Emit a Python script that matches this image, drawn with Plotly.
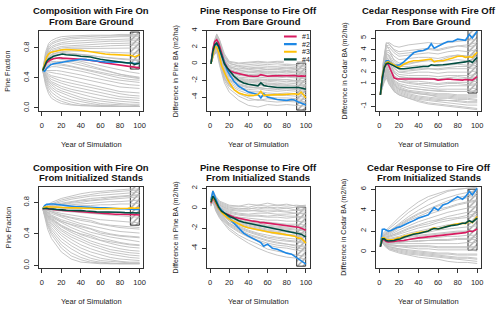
import plotly.graph_objects as go

# ---------------- data ----------------
GRID_BARE = [1, 4, 7, 10, 15, 20, 30, 40, 50, 60, 70, 80, 90, 100]
GRID_INIT = [1, 3, 6, 10, 20, 30, 40, 50, 60, 70, 80, 90, 100]
HI_YEARS = [1, 3, 5, 7, 9, 12, 15, 18, 21, 25, 30, 35, 40, 45, 50, 53, 56, 60, 65, 70, 75, 80, 85, 88, 92, 95, 100]

SERIES_NAMES = ["#1", "#2", "#3", "#4"]

TITLES = [
    ("Composition with Fire On", "From Bare Ground"),
    ("Pine Response to Fire Off", "From Bare Ground"),
    ("Cedar Response with Fire Off", "From Bare Ground"),
    ("Composition with Fire On", "From Initialized Stands"),
    ("Pine Response to Fire Off", "From Initialized Stands"),
    ("Cedar Response to Fire Off", "From Initialized Stands"),
]
Y_TITLES = ["Pine Fraction", "Difference in Pine BA (m2/ha)", "Difference in Cedar BA (m2/ha)",
            "Pine Fraction", "Difference in Pine BA (m2/ha)", "Difference in Cedar BA (m2/ha)"]
X_TITLE = "Year of Simulation"
X_TICKS = [0, 20, 40, 60, 80, 100]
Y_TICKS = [[0, 0.4, 0.8], [-4, -2, 0, 2, 4], [-1, 0, 1, 2, 3, 4, 5],
           [0, 0.4, 0.8], [-4, -2, 0, 2], [0, 2, 4, 6]]
Y_TICKTEXT = [["0.0", "0.4", "0.8"], ["-4", "-2", "0", "2", "4"], ["-1", "", "1", "2", "3", "4", "5"],
              ["0.0", "0.4", "0.8"], ["-4", "-2", "0", "2"], ["0", "2", "4", "6"]]

# hatched window (years 91-100) per panel: [y bottom, y top]
RECT_YEARS = [91, 100]
RECT_Y = [[0.51, 1.0], [-5.6, 0.0], [0.15, 5.65], [0.51, 1.0], [-5.9, 0.0], [0.15, 5.95]]

# highlighted runs: order #1 (pink), #2 (blue), #3 (yellow), #4 (green)
HI_P1 = [
    [0.5, 0.55, 0.6, 0.62, 0.64, 0.655, 0.665, 0.67, 0.665, 0.66, 0.66, 0.655, 0.65, 0.645, 0.64, 0.635, 0.625, 0.61, 0.60, 0.59, 0.58, 0.57, 0.56, 0.555, 0.55, 0.545, 0.535],
    [0.5, 0.49, 0.53, 0.56, 0.575, 0.59, 0.60, 0.605, 0.61, 0.62, 0.63, 0.64, 0.65, 0.645, 0.635, 0.63, 0.62, 0.62, 0.615, 0.61, 0.61, 0.61, 0.605, 0.60, 0.60, 0.595, 0.59],
    [0.5, 0.6, 0.68, 0.72, 0.74, 0.75, 0.76, 0.77, 0.775, 0.78, 0.78, 0.77, 0.77, 0.76, 0.75, 0.74, 0.73, 0.72, 0.72, 0.715, 0.71, 0.71, 0.705, 0.70, 0.70, 0.68, 0.71],
    [0.5, 0.56, 0.62, 0.65, 0.67, 0.69, 0.70, 0.715, 0.72, 0.71, 0.71, 0.70, 0.69, 0.69, 0.68, 0.67, 0.665, 0.65, 0.64, 0.63, 0.62, 0.61, 0.61, 0.60, 0.60, 0.58, 0.60],
]
HI_P2 = [
    [0, 1.8, 2.7, 2.9, 2.5, 1.3, 0.2, -0.5, -0.85, -1.05, -1.2, -1.35, -1.45, -1.5, -1.5, -1.3, -1.4, -1.5, -1.45, -1.45, -1.4, -1.4, -1.45, -1.4, -1.5, -1.45, -1.5],
    [0, 1.4, 2.2, 2.4, 2.0, 1.0, 0.0, -0.8, -1.4, -2.1, -2.7, -3.1, -3.4, -3.55, -3.7, -4.1, -3.6, -4.0, -4.15, -4.3, -4.35, -4.4, -4.3, -4.35, -4.6, -4.7, -4.95],
    [0, 1.3, 2.1, 2.0, 1.4, -0.2, -1.1, -1.8, -2.4, -3.1, -3.5, -3.7, -3.8, -3.8, -3.7, -3.3, -3.8, -3.75, -3.7, -3.7, -3.7, -3.65, -3.6, -3.6, -3.7, -3.4, -4.1],
    [0, 1.5, 2.3, 2.5, 2.1, 1.0, 0.0, -0.5, -0.9, -1.5, -2.0, -2.3, -2.45, -2.55, -2.65, -2.3, -2.6, -2.7, -2.8, -2.85, -2.85, -2.85, -2.85, -2.8, -2.85, -2.9, -3.05],
]
HI_P3 = [
    [0, 1.5, 2.4, 2.7, 2.7, 2.1, 1.5, 1.4, 1.4, 1.4, 1.4, 1.4, 1.42, 1.45, 1.4, 1.42, 1.4, 1.3, 1.35, 1.4, 1.35, 1.3, 1.3, 1.35, 1.35, 1.3, 1.6],
    [0, 1.6, 2.6, 3.0, 3.0, 2.8, 2.6, 2.6, 2.65, 2.9, 3.3, 3.7, 3.85, 3.9, 4.1, 4.5, 4.1, 4.3, 4.5, 4.7, 4.7, 4.9, 4.85, 4.8, 5.3, 5.0, 5.6],
    [0, 1.6, 2.5, 2.85, 2.9, 2.75, 2.6, 2.5, 2.45, 2.7, 2.9, 3.0, 3.0, 3.05, 3.1, 3.15, 2.9, 3.0, 3.0, 3.1, 3.25, 3.4, 3.4, 3.3, 3.35, 3.3, 3.75],
    [0, 1.5, 2.4, 2.75, 2.8, 2.7, 2.55, 2.4, 2.3, 2.3, 2.35, 2.45, 2.45, 2.5, 2.5, 2.65, 2.6, 2.65, 2.65, 2.7, 2.75, 2.85, 2.9, 2.9, 3.0, 2.85, 3.3],
]
HI_P4 = [
    [0.72, 0.725, 0.72, 0.72, 0.715, 0.71, 0.705, 0.70, 0.70, 0.695, 0.69, 0.685, 0.68, 0.68, 0.675, 0.67, 0.665, 0.665, 0.66, 0.655, 0.65, 0.65, 0.65, 0.645, 0.645, 0.645, 0.64],
    [0.72, 0.76, 0.775, 0.78, 0.78, 0.78, 0.775, 0.765, 0.76, 0.755, 0.75, 0.745, 0.745, 0.74, 0.74, 0.735, 0.73, 0.73, 0.73, 0.725, 0.72, 0.72, 0.72, 0.72, 0.715, 0.71, 0.71],
    [0.72, 0.74, 0.745, 0.745, 0.745, 0.74, 0.74, 0.738, 0.735, 0.73, 0.73, 0.73, 0.725, 0.725, 0.725, 0.72, 0.72, 0.72, 0.72, 0.72, 0.72, 0.72, 0.72, 0.725, 0.73, 0.725, 0.73],
    [0.72, 0.725, 0.725, 0.72, 0.72, 0.715, 0.71, 0.71, 0.705, 0.70, 0.70, 0.70, 0.695, 0.69, 0.69, 0.685, 0.68, 0.68, 0.68, 0.675, 0.675, 0.675, 0.67, 0.67, 0.67, 0.665, 0.665],
]
HI_P5 = [
    [0.5, 1.0, 0.7, 0.3, 0.0, -0.3, -0.5, -0.6, -0.75, -0.9, -1.0, -1.1, -1.25, -1.3, -1.35, -1.45, -1.45, -1.5, -1.55, -1.6, -1.7, -1.75, -1.8, -1.85, -1.9, -2.0, -2.2],
    [0.8, 1.7, 1.2, 0.6, 0.2, -0.2, -0.5, -0.9, -1.2, -1.6, -2.1, -2.5, -2.8, -3.05, -3.3, -3.45, -3.8, -3.6, -4.0, -4.1, -4.3, -4.5, -4.6, -4.8, -5.0, -5.2, -5.6],
    [0.6, 1.1, 0.8, 0.4, 0.0, -0.4, -0.7, -0.95, -1.15, -1.35, -1.6, -1.8, -1.95, -2.05, -2.15, -2.25, -2.3, -2.35, -2.45, -2.5, -2.6, -2.7, -2.75, -2.8, -3.0, -3.0, -3.5],
    [0.6, 1.2, 0.9, 0.5, 0.1, -0.3, -0.5, -0.7, -0.85, -1.0, -1.25, -1.4, -1.5, -1.6, -1.7, -1.75, -1.8, -1.9, -2.0, -2.1, -2.2, -2.3, -2.4, -2.45, -2.55, -2.6, -2.9],
]
HI_P6 = [
    [0.5, 1.2, 1.15, 1.0, 0.95, 0.95, 1.0, 1.05, 1.05, 1.1, 1.2, 1.3, 1.35, 1.4, 1.45, 1.5, 1.55, 1.55, 1.6, 1.65, 1.75, 1.8, 1.85, 1.85, 2.0, 1.95, 2.2],
    [0.6, 2.15, 2.2, 2.1, 2.0, 2.05, 2.2, 2.35, 2.4, 2.6, 2.8, 3.0, 3.25, 3.4, 3.55, 3.9, 4.25, 4.0, 4.5, 4.65, 5.0, 5.3, 5.05, 5.3, 5.8, 5.45, 6.1],
    [0.6, 1.35, 1.35, 1.2, 1.15, 1.15, 1.2, 1.3, 1.35, 1.5, 1.65, 1.75, 1.85, 1.9, 2.0, 2.2, 2.3, 2.2, 2.35, 2.5, 2.6, 2.7, 2.75, 2.7, 2.95, 2.8, 3.4],
    [0.5, 1.25, 1.25, 1.1, 1.05, 1.05, 1.1, 1.2, 1.25, 1.4, 1.58, 1.7, 1.77, 1.85, 2.0, 2.15, 2.25, 2.2, 2.35, 2.45, 2.55, 2.6, 2.75, 2.75, 3.0, 2.85, 3.25],
]

# all other runs (grey), values on GRID_BARE / GRID_INIT
GRAY_P1 = [
    [0.5, 0.75, 0.86, 0.9, 0.93, 0.95, 0.96, 0.97, 0.97, 0.97, 0.97, 0.98, 0.98, 0.98],
    [0.5, 0.72, 0.83, 0.87, 0.9, 0.92, 0.94, 0.95, 0.95, 0.96, 0.96, 0.96, 0.96, 0.97],
    [0.5, 0.7, 0.8, 0.85, 0.88, 0.9, 0.92, 0.93, 0.93, 0.94, 0.94, 0.95, 0.95, 0.95],
    [0.5, 0.68, 0.78, 0.82, 0.85, 0.87, 0.89, 0.9, 0.9, 0.91, 0.91, 0.92, 0.92, 0.92],
    [0.5, 0.66, 0.76, 0.8, 0.83, 0.85, 0.86, 0.87, 0.88, 0.88, 0.89, 0.89, 0.9, 0.9],
    [0.5, 0.65, 0.74, 0.78, 0.8, 0.82, 0.83, 0.84, 0.85, 0.85, 0.86, 0.86, 0.87, 0.87],
    [0.5, 0.64, 0.72, 0.76, 0.78, 0.8, 0.81, 0.81, 0.82, 0.82, 0.83, 0.83, 0.83, 0.84],
    [0.5, 0.62, 0.7, 0.74, 0.76, 0.78, 0.79, 0.79, 0.79, 0.8, 0.8, 0.8, 0.8, 0.8],
    [0.5, 0.6, 0.68, 0.72, 0.74, 0.75, 0.76, 0.76, 0.75, 0.75, 0.74, 0.74, 0.73, 0.73],
    [0.5, 0.6, 0.66, 0.7, 0.71, 0.72, 0.72, 0.71, 0.7, 0.68, 0.67, 0.66, 0.65, 0.64],
    [0.5, 0.58, 0.63, 0.66, 0.67, 0.67, 0.65, 0.62, 0.59, 0.56, 0.53, 0.5, 0.48, 0.46],
    [0.5, 0.56, 0.6, 0.62, 0.62, 0.62, 0.6, 0.57, 0.53, 0.5, 0.47, 0.44, 0.42, 0.4],
    [0.5, 0.54, 0.57, 0.58, 0.58, 0.57, 0.55, 0.52, 0.48, 0.45, 0.42, 0.4, 0.38, 0.37],
    [0.5, 0.52, 0.54, 0.55, 0.55, 0.54, 0.52, 0.49, 0.46, 0.42, 0.39, 0.37, 0.35, 0.34],
    [0.5, 0.5, 0.51, 0.51, 0.5, 0.49, 0.47, 0.44, 0.41, 0.38, 0.35, 0.33, 0.31, 0.3],
    [0.5, 0.48, 0.48, 0.47, 0.46, 0.45, 0.42, 0.39, 0.36, 0.33, 0.3, 0.28, 0.27, 0.26],
    [0.5, 0.47, 0.45, 0.43, 0.42, 0.4, 0.37, 0.34, 0.3, 0.27, 0.24, 0.22, 0.21, 0.2],
    [0.5, 0.46, 0.43, 0.41, 0.38, 0.36, 0.33, 0.3, 0.27, 0.24, 0.21, 0.19, 0.17, 0.16],
    [0.5, 0.45, 0.41, 0.38, 0.35, 0.33, 0.29, 0.26, 0.23, 0.2, 0.17, 0.15, 0.14, 0.13],
    [0.5, 0.44, 0.39, 0.35, 0.32, 0.29, 0.25, 0.22, 0.19, 0.16, 0.14, 0.12, 0.11, 0.1],
    [0.5, 0.43, 0.37, 0.33, 0.29, 0.26, 0.22, 0.18, 0.15, 0.12, 0.1, 0.09, 0.08, 0.07],
    [0.5, 0.42, 0.35, 0.31, 0.26, 0.23, 0.18, 0.14, 0.11, 0.09, 0.07, 0.06, 0.05, 0.05],
    [0.5, 0.4, 0.33, 0.28, 0.23, 0.2, 0.15, 0.11, 0.08, 0.06, 0.05, 0.04, 0.04, 0.03],
    [0.5, 0.38, 0.3, 0.25, 0.2, 0.16, 0.11, 0.08, 0.06, 0.04, 0.03, 0.03, 0.02, 0.02],
    [0.5, 0.36, 0.27, 0.21, 0.16, 0.12, 0.08, 0.05, 0.04, 0.03, 0.02, 0.02, 0.02, 0.02],
    [0.5, 0.33, 0.23, 0.17, 0.12, 0.09, 0.05, 0.03, 0.03, 0.02, 0.02, 0.02, 0.02, 0.02],
    [0.5, 0.3, 0.19, 0.13, 0.09, 0.06, 0.04, 0.03, 0.02, 0.02, 0.02, 0.02, 0.02, 0.02],
    [0.5, 0.6, 0.64, 0.66, 0.66, 0.65, 0.63, 0.6, 0.56, 0.52, 0.48, 0.45, 0.43, 0.41],
    [0.5, 0.55, 0.58, 0.6, 0.6, 0.59, 0.56, 0.53, 0.5, 0.47, 0.45, 0.43, 0.41, 0.39],
    [0.5, 0.62, 0.68, 0.71, 0.73, 0.74, 0.73, 0.72, 0.7, 0.68, 0.66, 0.65, 0.64, 0.63],
]
GRAY_P2 = [
    [0, 2.5, 3.5, 2.8, 1.0, 0.2, 0.0, 0.1, 0.2, 0.1, 0.2, 0.1, 0.2, 0.1],
    [0, 2.3, 3.2, 2.5, 0.8, 0.0, -0.2, -0.1, 0.0, -0.1, 0.0, -0.1, -0.1, -0.2],
    [0, 2.2, 3.0, 2.3, 0.6, -0.2, -0.4, -0.3, -0.2, -0.3, -0.3, -0.2, -0.3, -0.3],
    [0, 2.0, 2.8, 2.1, 0.4, -0.4, -0.6, -0.5, -0.4, -0.5, -0.5, -0.4, -0.5, -0.6],
    [0, 2.1, 2.9, 2.0, 0.3, -0.5, -0.8, -0.7, -0.6, -0.7, -0.7, -0.6, -0.7, -0.8],
    [0, 1.9, 2.6, 1.8, 0.1, -0.7, -1.0, -0.9, -0.8, -0.9, -0.9, -0.8, -0.9, -1.0],
    [0, 1.8, 2.5, 1.7, -0.1, -0.8, -1.1, -1.1, -1.0, -1.1, -1.1, -1.0, -1.1, -1.2],
    [0, 2.0, 2.7, 1.6, -0.2, -0.9, -1.3, -1.3, -1.2, -1.2, -1.3, -1.2, -1.3, -1.3],
    [0, 1.7, 2.4, 1.5, -0.3, -1.0, -1.4, -1.5, -1.4, -1.5, -1.5, -1.4, -1.5, -1.6],
    [0, 1.6, 2.3, 1.4, -0.4, -1.1, -1.6, -1.7, -1.6, -1.7, -1.7, -1.6, -1.7, -1.8],
    [0, 1.8, 2.5, 1.3, -0.5, -1.2, -1.7, -1.9, -1.8, -1.9, -1.9, -1.9, -2.0, -2.0],
    [0, 1.5, 2.2, 1.2, -0.6, -1.3, -1.9, -2.1, -2.0, -2.1, -2.2, -2.1, -2.2, -2.2],
    [0, 1.6, 2.1, 1.1, -0.8, -1.5, -2.1, -2.3, -2.2, -2.3, -2.4, -2.3, -2.4, -2.5],
    [0, 1.4, 2.0, 1.0, -0.9, -1.6, -2.2, -2.5, -2.4, -2.5, -2.6, -2.5, -2.6, -2.7],
    [0, 1.5, 2.0, 0.9, -1.0, -1.8, -2.4, -2.7, -2.6, -2.7, -2.8, -2.8, -2.9, -2.9],
    [0, 1.3, 1.9, 0.8, -1.1, -1.9, -2.6, -2.9, -2.8, -3.0, -3.1, -3.0, -3.1, -3.2],
    [0, 1.4, 1.8, 0.6, -1.3, -2.1, -2.8, -3.1, -3.0, -3.2, -3.3, -3.2, -3.3, -3.4],
    [0, 1.2, 1.7, 0.5, -1.4, -2.3, -3.0, -3.3, -3.3, -3.5, -3.6, -3.5, -3.6, -3.7],
    [0, 1.3, 1.6, 0.4, -1.6, -2.5, -3.2, -3.6, -3.5, -3.7, -3.8, -3.8, -3.9, -4.0],
    [0, 1.1, 1.5, 0.2, -1.8, -2.7, -3.5, -3.9, -3.8, -4.0, -4.1, -4.1, -4.2, -4.3],
    [0, 1.2, 1.6, 0.0, -2.0, -3.0, -3.9, -4.4, -4.3, -4.5, -4.6, -4.5, -4.6, -4.7],
    [0, 1.0, 1.4, -0.2, -2.3, -3.4, -4.4, -5.0, -5.2, -4.9, -5.0, -4.9, -5.0, -5.1],
    [0, 2.4, 3.3, 2.6, 0.9, 0.1, -0.3, -0.6, -0.5, -0.7, -0.6, -0.5, -0.6, -0.5],
    [0, 2.2, 3.1, 2.2, 0.5, -0.3, -0.7, -1.0, -0.9, -1.0, -1.0, -0.9, -1.0, -1.1],
    [0, 1.9, 2.7, 1.9, 0.2, -0.6, -1.2, -1.4, -1.3, -1.4, -1.5, -1.5, -1.6, -1.7],
    [0, 1.7, 2.3, 1.2, -0.5, -1.3, -1.8, -2.0, -1.9, -2.0, -2.0, -1.9, -2.1, -2.3],
    [0, 1.5, 2.1, 1.0, -0.7, -1.5, -2.0, -2.2, -2.1, -2.4, -2.5, -2.6, -2.7, -2.6],
    [0, 1.3, 1.8, 0.7, -1.2, -2.0, -2.5, -2.8, -2.9, -3.0, -2.9, -3.0, -3.0, -3.1],
    [0, 2.6, 3.6, 2.9, 1.2, 0.3, 0.1, 0.2, 0.3, 0.2, 0.3, 0.3, 0.2, 0.3],
    [0, 1.1, 1.6, 0.3, -1.7, -2.6, -3.6, -4.1, -4.4, -4.2, -4.3, -4.4, -4.4, -4.6],
]
GRAY_P3 = [
    [0, 2.8, 4.5, 4.6, 4.3, 4.2, 4.4, 4.5, 4.6, 4.5, 4.6, 4.7, 4.8, 4.9],
    [0, 2.6, 4.3, 4.4, 4.0, 3.8, 3.9, 4.0, 4.1, 4.0, 4.2, 4.3, 4.2, 4.4],
    [0, 2.5, 4.1, 4.2, 3.7, 3.4, 3.5, 3.6, 3.7, 3.6, 3.8, 3.9, 3.8, 4.0],
    [0, 2.4, 3.9, 3.9, 3.4, 3.1, 3.2, 3.3, 3.3, 3.2, 3.4, 3.5, 3.4, 3.6],
    [0, 2.3, 3.8, 3.7, 3.1, 2.8, 2.8, 2.9, 3.0, 2.9, 3.0, 3.1, 3.0, 3.2],
    [0, 2.2, 3.6, 3.5, 2.8, 2.5, 2.5, 2.6, 2.6, 2.5, 2.6, 2.7, 2.6, 2.8],
    [0, 2.1, 3.5, 3.3, 2.6, 2.2, 2.2, 2.3, 2.3, 2.2, 2.3, 2.3, 2.3, 2.4],
    [0, 2.0, 3.3, 3.1, 2.3, 2.0, 1.9, 2.0, 2.0, 1.9, 2.0, 2.0, 2.0, 2.1],
    [0, 1.9, 3.2, 2.9, 2.1, 1.8, 1.7, 1.7, 1.7, 1.6, 1.7, 1.7, 1.7, 1.8],
    [0, 1.8, 3.0, 2.7, 1.9, 1.6, 1.5, 1.4, 1.4, 1.3, 1.4, 1.4, 1.4, 1.5],
    [0, 1.8, 2.9, 2.5, 1.7, 1.4, 1.2, 1.2, 1.1, 1.0, 1.1, 1.1, 1.1, 1.2],
    [0, 1.7, 2.8, 2.3, 1.5, 1.2, 1.0, 0.9, 0.8, 0.7, 0.8, 0.8, 0.8, 0.9],
    [0, 1.6, 2.6, 2.1, 1.3, 1.0, 0.8, 0.7, 0.6, 0.5, 0.5, 0.5, 0.5, 0.6],
    [0, 1.5, 2.5, 1.9, 1.1, 0.8, 0.6, 0.5, 0.4, 0.3, 0.3, 0.3, 0.3, 0.3],
    [0, 1.4, 2.3, 1.7, 1.0, 0.7, 0.4, 0.3, 0.2, 0.1, 0.1, 0.0, 0.0, 0.0],
    [0, 1.3, 2.1, 1.5, 0.8, 0.5, 0.2, 0.1, 0.0, -0.1, -0.1, -0.2, -0.2, -0.2],
    [0, 1.2, 2.0, 1.4, 0.7, 0.4, 0.1, -0.1, -0.2, -0.3, -0.3, -0.4, -0.4, -0.5],
    [0, 1.1, 1.8, 1.2, 0.5, 0.2, -0.1, -0.3, -0.4, -0.5, -0.5, -0.6, -0.7, -0.7],
    [0, 1.0, 1.7, 1.1, 0.4, 0.1, -0.2, -0.4, -0.5, -0.6, -0.7, -0.8, -0.9, -0.9],
    [0, 0.9, 1.5, 0.9, 0.3, 0.0, -0.3, -0.5, -0.7, -0.8, -0.9, -1.0, -1.1, -1.2],
    [0, 2.7, 4.4, 4.0, 3.0, 2.6, 2.7, 2.9, 3.1, 3.0, 3.3, 3.5, 3.4, 3.7],
    [0, 2.3, 3.7, 3.4, 2.4, 2.0, 2.1, 2.2, 2.3, 2.3, 2.4, 2.5, 2.5, 2.6],
    [0, 1.9, 3.1, 2.6, 1.6, 1.2, 1.1, 1.0, 1.0, 0.9, 1.0, 1.0, 0.9, 1.0],
    [0, 1.6, 2.7, 2.0, 1.2, 0.9, 0.6, 0.5, 0.4, 0.4, 0.3, 0.3, 0.3, 0.4],
    [0, 1.3, 2.2, 1.6, 0.9, 0.6, 0.3, 0.2, 0.1, 0.0, 0.0, -0.1, -0.1, -0.1],
    [0, 1.2, 1.9, 1.3, 0.6, 0.3, 0.0, -0.2, -0.3, -0.4, -0.5, -0.5, -0.6, -0.6],
    [0, 2.9, 4.6, 4.5, 3.9, 3.6, 3.7, 3.8, 4.0, 3.9, 4.1, 4.3, 4.4, 4.6],
    [0, 2.0, 3.4, 3.0, 2.0, 1.6, 1.5, 1.5, 1.5, 1.4, 1.5, 1.6, 1.5, 1.6],
    [0, 1.4, 2.4, 1.8, 0.9, 0.5, 0.3, 0.1, 0.0, -0.2, -0.2, -0.3, -0.3, -0.4],
    [0, 1.1, 1.7, 1.0, 0.3, 0.0, -0.3, -0.6, -0.8, -0.9, -1.0, -1.1, -1.2, -1.3],
]
GRAY_P4 = [
    [0.72, 0.74, 0.77, 0.8, 0.85, 0.88, 0.91, 0.93, 0.94, 0.95, 0.96, 0.97, 0.97],
    [0.72, 0.73, 0.76, 0.78, 0.83, 0.86, 0.88, 0.9, 0.92, 0.93, 0.94, 0.95, 0.95],
    [0.72, 0.73, 0.75, 0.77, 0.81, 0.84, 0.86, 0.88, 0.89, 0.9, 0.91, 0.92, 0.93],
    [0.72, 0.73, 0.74, 0.76, 0.79, 0.81, 0.83, 0.85, 0.86, 0.87, 0.88, 0.89, 0.9],
    [0.72, 0.73, 0.74, 0.75, 0.77, 0.79, 0.8, 0.82, 0.83, 0.84, 0.85, 0.86, 0.87],
    [0.72, 0.72, 0.73, 0.74, 0.76, 0.77, 0.78, 0.79, 0.8, 0.81, 0.81, 0.82, 0.83],
    [0.72, 0.72, 0.73, 0.73, 0.74, 0.75, 0.76, 0.76, 0.77, 0.77, 0.78, 0.78, 0.79],
    [0.72, 0.72, 0.72, 0.72, 0.72, 0.72, 0.72, 0.72, 0.72, 0.72, 0.72, 0.72, 0.72],
    [0.72, 0.71, 0.71, 0.7, 0.69, 0.68, 0.67, 0.66, 0.65, 0.64, 0.63, 0.62, 0.61],
    [0.72, 0.71, 0.7, 0.69, 0.66, 0.64, 0.62, 0.6, 0.58, 0.57, 0.56, 0.55, 0.54],
    [0.72, 0.71, 0.69, 0.67, 0.63, 0.6, 0.57, 0.55, 0.52, 0.5, 0.48, 0.47, 0.46],
    [0.72, 0.7, 0.68, 0.66, 0.61, 0.57, 0.53, 0.5, 0.47, 0.45, 0.43, 0.42, 0.41],
    [0.72, 0.7, 0.67, 0.64, 0.58, 0.54, 0.5, 0.46, 0.43, 0.4, 0.38, 0.37, 0.36],
    [0.72, 0.7, 0.66, 0.63, 0.56, 0.51, 0.46, 0.42, 0.39, 0.36, 0.34, 0.32, 0.3],
    [0.72, 0.69, 0.65, 0.61, 0.54, 0.48, 0.43, 0.39, 0.35, 0.32, 0.29, 0.27, 0.26],
    [0.72, 0.69, 0.64, 0.6, 0.51, 0.45, 0.39, 0.35, 0.31, 0.28, 0.25, 0.23, 0.22],
    [0.72, 0.68, 0.63, 0.58, 0.49, 0.42, 0.36, 0.31, 0.27, 0.24, 0.21, 0.19, 0.18],
    [0.72, 0.68, 0.62, 0.57, 0.46, 0.39, 0.33, 0.28, 0.24, 0.2, 0.18, 0.16, 0.15],
    [0.72, 0.67, 0.61, 0.55, 0.44, 0.36, 0.3, 0.25, 0.21, 0.17, 0.15, 0.13, 0.12],
    [0.72, 0.67, 0.6, 0.53, 0.41, 0.33, 0.26, 0.21, 0.17, 0.14, 0.12, 0.1, 0.09],
    [0.72, 0.66, 0.58, 0.51, 0.38, 0.29, 0.22, 0.17, 0.13, 0.1, 0.08, 0.07, 0.06],
    [0.72, 0.65, 0.56, 0.48, 0.34, 0.25, 0.18, 0.13, 0.09, 0.07, 0.05, 0.04, 0.04],
    [0.72, 0.64, 0.54, 0.45, 0.3, 0.21, 0.14, 0.09, 0.06, 0.05, 0.04, 0.03, 0.03],
    [0.72, 0.63, 0.52, 0.42, 0.26, 0.16, 0.1, 0.06, 0.04, 0.03, 0.02, 0.02, 0.02],
    [0.72, 0.62, 0.5, 0.39, 0.22, 0.12, 0.07, 0.04, 0.03, 0.02, 0.02, 0.02, 0.02],
    [0.72, 0.6, 0.46, 0.34, 0.17, 0.08, 0.04, 0.03, 0.02, 0.02, 0.02, 0.02, 0.02],
    [0.72, 0.71, 0.7, 0.68, 0.64, 0.61, 0.59, 0.57, 0.53, 0.51, 0.5, 0.49, 0.48],
    [0.72, 0.69, 0.66, 0.62, 0.56, 0.52, 0.49, 0.46, 0.41, 0.39, 0.37, 0.36, 0.35],
    [0.72, 0.68, 0.63, 0.59, 0.5, 0.44, 0.4, 0.37, 0.32, 0.3, 0.28, 0.26, 0.25],
    [0.72, 0.73, 0.75, 0.76, 0.78, 0.8, 0.82, 0.83, 0.84, 0.86, 0.87, 0.88, 0.89],
]
GRAY_P5 = [
    [0.8, 1.5, 1.0, 0.6, 0.2, 0.2, 0.1, 0.3, 0.2, 0.3, 0.2, 0.3, 0.2],
    [0.7, 1.4, 0.9, 0.4, 0.0, 0.0, -0.1, 0.1, 0.0, 0.1, 0.0, 0.1, 0.0],
    [0.7, 1.3, 0.8, 0.3, -0.2, -0.3, -0.3, -0.2, -0.2, -0.2, -0.3, -0.2, -0.3],
    [0.6, 1.2, 0.7, 0.2, -0.3, -0.5, -0.6, -0.5, -0.5, -0.6, -0.6, -0.5, -0.6],
    [0.6, 1.3, 0.7, 0.1, -0.5, -0.7, -0.8, -0.8, -0.9, -0.9, -1.0, -0.9, -1.0],
    [0.5, 1.1, 0.6, 0.0, -0.6, -0.9, -1.0, -1.1, -1.2, -1.2, -1.3, -1.3, -1.4],
    [0.5, 1.2, 0.5, -0.1, -0.7, -1.0, -1.2, -1.3, -1.4, -1.5, -1.6, -1.6, -1.7],
    [0.5, 1.0, 0.5, -0.2, -0.8, -1.2, -1.4, -1.5, -1.7, -1.8, -1.9, -1.9, -2.0],
    [0.4, 1.1, 0.4, -0.3, -0.9, -1.3, -1.6, -1.8, -1.9, -2.0, -2.1, -2.2, -2.3],
    [0.4, 0.9, 0.3, -0.3, -1.0, -1.5, -1.8, -2.0, -2.2, -2.3, -2.4, -2.5, -2.6],
    [0.4, 1.0, 0.3, -0.4, -1.2, -1.7, -2.0, -2.2, -2.4, -2.6, -2.7, -2.8, -2.9],
    [0.3, 0.9, 0.2, -0.5, -1.3, -1.8, -2.2, -2.5, -2.7, -2.9, -3.0, -3.1, -3.2],
    [0.3, 0.8, 0.1, -0.6, -1.5, -2.0, -2.4, -2.7, -3.0, -3.2, -3.3, -3.4, -3.5],
    [0.3, 0.9, 0.0, -0.7, -1.6, -2.2, -2.7, -3.0, -3.3, -3.5, -3.6, -3.8, -3.9],
    [0.3, 0.8, -0.1, -0.8, -1.8, -2.4, -2.9, -3.3, -3.7, -3.9, -4.0, -4.2, -4.3],
    [0.3, 0.7, -0.2, -0.9, -2.0, -2.7, -3.2, -3.6, -4.1, -4.3, -4.5, -4.7, -4.8],
    [0.2, 0.7, -0.3, -1.0, -2.2, -2.9, -3.5, -4.0, -4.4, -4.7, -4.9, -5.0, -5.1],
    [1.0, 1.8, 1.2, 0.7, 0.3, 0.2, 0.4, 0.3, 0.5, 0.3, 0.4, 0.2, 0.3],
    [0.9, 1.6, 1.1, 0.5, 0.1, -0.1, 0.0, -0.1, 0.1, -0.1, 0.0, -0.2, -0.1],
    [0.6, 1.2, 0.6, 0.1, -0.4, -0.6, -0.7, -0.7, -0.8, -0.7, -0.8, -0.8, -0.9],
    [0.5, 1.1, 0.5, -0.1, -0.8, -1.1, -1.3, -1.4, -1.5, -1.6, -1.7, -1.8, -1.9],
    [0.4, 1.0, 0.4, -0.2, -1.0, -1.4, -1.7, -1.9, -2.1, -2.1, -2.2, -2.4, -2.5],
    [0.4, 0.9, 0.3, -0.4, -1.1, -1.6, -1.9, -2.1, -2.3, -2.4, -2.6, -2.7, -2.8],
    [0.3, 0.8, 0.2, -0.4, -1.3, -1.9, -2.3, -2.6, -2.9, -3.0, -3.2, -3.3, -3.4],
    [0.2, 0.8, 0.0, -0.6, -1.5, -2.1, -2.6, -2.9, -3.2, -3.4, -3.6, -3.7, -3.8],
    [0.3, 0.7, -0.1, -0.8, -1.7, -2.3, -2.8, -3.2, -3.5, -3.7, -3.8, -4.0, -4.1],
    [0.7, 1.4, 0.8, 0.3, -0.1, -0.2, -0.2, -0.3, -0.4, -0.3, -0.4, -0.5, -0.5],
    [0.5, 1.0, 0.4, -0.2, -0.9, -1.2, -1.5, -1.6, -1.8, -1.9, -2.0, -2.1, -2.2],
]
GRAY_P6 = [
    [0.5, 1.6, 1.9, 2.2, 3.0, 3.8, 4.4, 5.0, 5.4, 5.8, 6.0, 6.1, 6.2],
    [0.5, 1.5, 1.8, 2.0, 2.7, 3.4, 4.0, 4.5, 4.9, 5.2, 5.5, 5.7, 5.9],
    [0.5, 1.5, 1.7, 1.9, 2.5, 3.1, 3.6, 4.0, 4.4, 4.7, 5.0, 5.2, 5.4],
    [0.5, 1.4, 1.6, 1.7, 2.3, 2.8, 3.2, 3.6, 3.9, 4.2, 4.5, 4.7, 4.9],
    [0.5, 1.4, 1.5, 1.6, 2.1, 2.5, 2.9, 3.2, 3.5, 3.8, 4.0, 4.2, 4.4],
    [0.5, 1.3, 1.4, 1.5, 1.9, 2.3, 2.6, 2.9, 3.1, 3.4, 3.6, 3.8, 3.9],
    [0.5, 1.3, 1.3, 1.4, 1.7, 2.0, 2.3, 2.5, 2.8, 3.0, 3.2, 3.3, 3.5],
    [0.5, 1.3, 1.3, 1.3, 1.5, 1.8, 2.0, 2.2, 2.4, 2.6, 2.7, 2.9, 3.0],
    [0.5, 1.2, 1.2, 1.2, 1.4, 1.6, 1.8, 1.9, 2.1, 2.2, 2.3, 2.4, 2.5],
    [0.5, 1.2, 1.1, 1.1, 1.2, 1.4, 1.5, 1.6, 1.7, 1.8, 1.9, 2.0, 2.1],
    [0.5, 1.2, 1.1, 1.0, 1.1, 1.2, 1.3, 1.3, 1.4, 1.5, 1.5, 1.6, 1.6],
    [0.5, 1.1, 1.0, 0.9, 0.9, 1.0, 1.0, 1.1, 1.1, 1.1, 1.2, 1.2, 1.2],
    [0.5, 1.1, 0.9, 0.8, 0.8, 0.8, 0.8, 0.8, 0.8, 0.8, 0.8, 0.9, 0.9],
    [0.5, 1.1, 0.9, 0.7, 0.6, 0.6, 0.6, 0.6, 0.5, 0.5, 0.5, 0.5, 0.5],
    [0.5, 1.0, 0.8, 0.6, 0.5, 0.4, 0.3, 0.3, 0.2, 0.2, 0.2, 0.2, 0.1],
    [0.5, 1.0, 0.7, 0.5, 0.3, 0.2, 0.1, 0.0, -0.1, -0.1, -0.2, -0.2, -0.2],
    [0.5, 1.0, 0.7, 0.4, 0.2, 0.0, -0.1, -0.2, -0.3, -0.4, -0.5, -0.5, -0.6],
    [0.5, 0.9, 0.6, 0.3, 0.0, -0.2, -0.3, -0.4, -0.5, -0.6, -0.7, -0.8, -0.9],
    [0.5, 0.9, 0.5, 0.2, -0.1, -0.3, -0.5, -0.6, -0.7, -0.9, -1.0, -1.0, -1.1],
    [0.5, 1.7, 2.0, 2.4, 3.3, 4.1, 4.8, 5.3, 5.6, 5.9, 6.0, 6.1, 6.1],
    [0.5, 1.4, 1.6, 1.8, 2.4, 3.0, 3.4, 3.8, 4.1, 4.3, 4.6, 4.8, 5.0],
    [0.5, 1.3, 1.4, 1.5, 1.8, 2.2, 2.5, 2.7, 3.0, 3.2, 3.3, 3.5, 3.7],
    [0.5, 1.2, 1.2, 1.2, 1.3, 1.5, 1.6, 1.7, 1.8, 1.9, 2.0, 2.0, 2.1],
    [0.5, 1.1, 1.0, 0.9, 1.0, 1.0, 1.1, 1.1, 1.2, 1.2, 1.3, 1.3, 1.4],
    [0.5, 1.0, 0.8, 0.7, 0.6, 0.5, 0.5, 0.5, 0.4, 0.4, 0.4, 0.4, 0.4],
    [0.5, 1.0, 0.7, 0.5, 0.3, 0.1, 0.0, -0.1, -0.2, -0.2, -0.3, -0.3, -0.3],
    [0.5, 0.9, 0.6, 0.3, 0.1, -0.1, -0.2, -0.3, -0.4, -0.5, -0.6, -0.6, -0.7],
    [0.5, 1.5, 1.7, 1.9, 2.6, 3.2, 3.7, 4.1, 4.5, 4.9, 5.2, 5.4, 5.6],
]

# ---------------- styling / layout ----------------
COLORS = ["#D81B60", "#1E88E5", "#FFC107", "#004D40"]
GRAY = "#BEBEBE"
FONT = "Liberation Sans, Arial, Helvetica, sans-serif"
W, H = 500, 309

# plot boxes in pixels (left, right, top, bottom)
COL_PX = [(39, 144), (208, 311), (378, 483)]
ROW_PX = [(28, 110), (186.7, 269)]
Y_RANGES = [[-0.043, 1.032], [-5.7, 4.0], [-1.44, 5.66],
            [-0.03, 1.0], [-5.95, 2.15], [-1.5, 6.25]]
X_RANGE = [-2.96, 103.96]
YTITLE_X_PX = [8, 177, 346]

panels_gray = [GRAY_P1, GRAY_P2, GRAY_P3, GRAY_P4, GRAY_P5, GRAY_P6]
panels_hi = [HI_P1, HI_P2, HI_P3, HI_P4, HI_P5, HI_P6]
panels_grid = [GRID_BARE] * 3 + [GRID_INIT] * 3

fig = go.Figure()
annotations = []
layout = {}

for i in range(6):
    n = i + 1
    row, col = divmod(i, 3)
    xa = "x" if n == 1 else f"x{n}"
    ya = "y" if n == 1 else f"y{n}"
    grid = panels_grid[i]

    # grey runs combined into one trace with gaps
    gx, gy = [], []
    for run in panels_gray[i]:
        gx += list(grid[:len(run)]) + [None]
        gy += list(run) + [None]
    fig.add_trace(go.Scatter(x=gx, y=gy, mode="lines", xaxis=xa, yaxis=ya,
                             line=dict(color=GRAY, width=0.9), showlegend=False,
                             hoverinfo="skip", connectgaps=False))

    # hatched window
    y0, y1 = RECT_Y[i]
    fig.add_trace(go.Bar(x=[(RECT_YEARS[0] + RECT_YEARS[1]) / 2], y=[y1 - y0], base=[y0],
                         width=[RECT_YEARS[1] - RECT_YEARS[0]], xaxis=xa, yaxis=ya,
                         marker=dict(color="rgba(0,0,0,0)",
                                     line=dict(color="#333333", width=1),
                                     pattern=dict(shape="/", fgcolor="#333333", size=4, solidity=0.3)),
                         showlegend=False, hoverinfo="skip"))

    # highlighted runs (draw #1 ... #4)
    for k, series in enumerate(panels_hi[i]):
        fig.add_trace(go.Scatter(x=HI_YEARS, y=series, mode="lines", xaxis=xa, yaxis=ya,
                                 line=dict(color=COLORS[k], width=1.6), showlegend=False,
                                 name=SERIES_NAMES[k]))

    l, r = COL_PX[col]
    t, b = ROW_PX[row]
    xd = [l / W, r / W]
    yd = [1 - b / H, 1 - t / H]
    axis_common = dict(showgrid=False, zeroline=False, showline=True, mirror=True,
                       linecolor="#333333", linewidth=1, ticks="outside", ticklen=4,
                       tickcolor="#333333", tickwidth=1,
                       tickfont=dict(family=FONT, size=7.5, color="#222222"))
    layout["xaxis" if n == 1 else f"xaxis{n}"] = dict(
        domain=xd, range=X_RANGE, tickvals=X_TICKS, anchor=ya, ticklabelstandoff=3, **axis_common)
    layout["yaxis" if n == 1 else f"yaxis{n}"] = dict(
        domain=yd, range=Y_RANGES[i], tickvals=Y_TICKS[i], ticktext=Y_TICKTEXT[i],
        tickangle=-90, anchor=xa, ticklabelstandoff=2, **axis_common)

    cx = (l + r) / 2 / W
    # titles (two lines)
    line1, line2 = TITLES[i]
    for j, txt in enumerate((line1, line2)):
        annotations.append(dict(text=f"<b>{txt}</b>", x=cx, y=1 - (t - 20 + j * 11) / H,
                                xref="paper", yref="paper", showarrow=False,
                                xanchor="center", yanchor="middle",
                                font=dict(family=FONT, size=9.5, color="#111111")))
    # x title
    annotations.append(dict(text=X_TITLE, x=cx, y=1 - (b + 34) / H, xref="paper", yref="paper",
                            showarrow=False, xanchor="center", yanchor="middle",
                            font=dict(family=FONT, size=7.5, color="#222222")))
    # y title
    annotations.append(dict(text=Y_TITLES[i], x=YTITLE_X_PX[col] / W, y=(yd[0] + yd[1]) / 2,
                            xref="paper", yref="paper", showarrow=False, textangle=-90,
                            xanchor="center", yanchor="middle",
                            font=dict(family=FONT, size=7, color="#222222")))

# legend in panel 2 drawn on a hidden helper axis
LEG_TOP, LEG_BOT = 30.2, 61.2
layout["xaxis7"] = dict(domain=[285 / W, 298 / W], range=[0, 1], visible=False, anchor="y7", fixedrange=True)
layout["yaxis7"] = dict(domain=[1 - LEG_BOT / H, 1 - LEG_TOP / H], range=[len(SERIES_NAMES) - 0.5, -0.5],
                        visible=False, anchor="x7", fixedrange=True)
for k, nm in enumerate(SERIES_NAMES):
    fig.add_trace(go.Scatter(x=[0, 1], y=[k, k], mode="lines", xaxis="x7", yaxis="y7",
                             line=dict(color=COLORS[k], width=2.2), showlegend=False, hoverinfo="skip"))
    annotations.append(dict(text=nm, x=1, y=k, xref="x7", yref="y7", showarrow=False,
                            xanchor="left", yanchor="middle", xshift=3,
                            font=dict(family=FONT, size=7, color="#222222")))

fig.update_layout(width=W, height=H, margin=dict(l=0, r=0, t=0, b=0),
                  paper_bgcolor="white", plot_bgcolor="white", showlegend=False,
                  font=dict(family=FONT), annotations=annotations, bargap=0, **layout)

fig.write_html("out.html", config={"displayModeBar": False},
               post_script="document.body.style.margin='0';document.body.style.overflow='hidden';")
